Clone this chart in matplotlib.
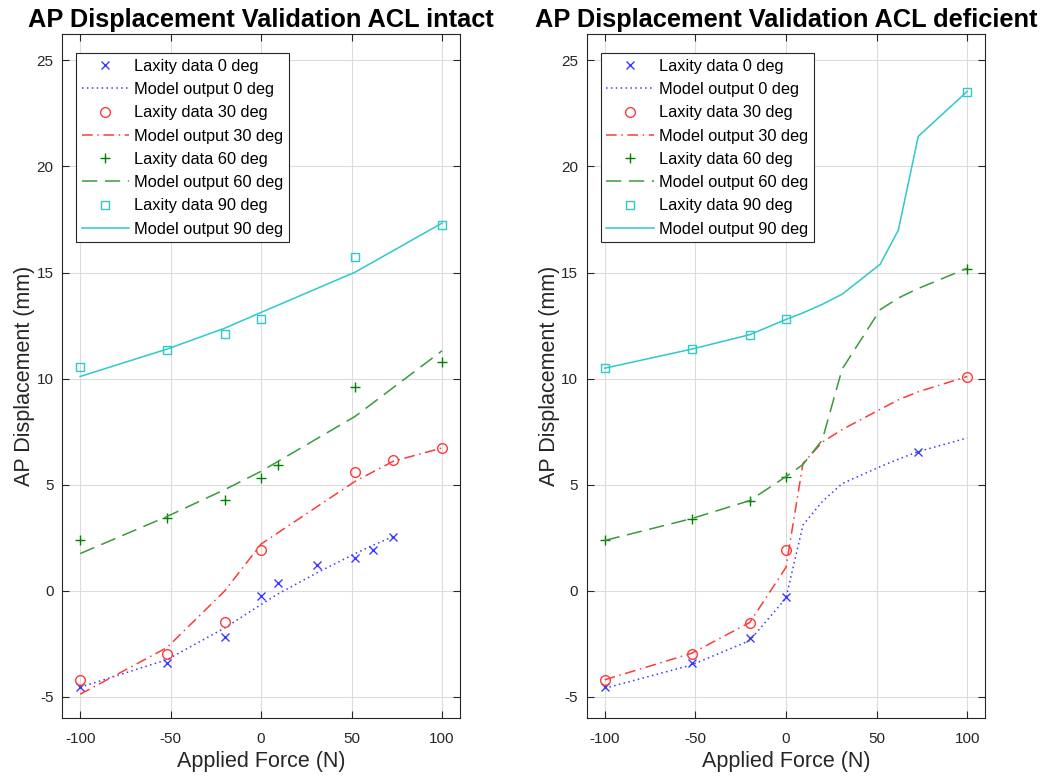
import matplotlib
matplotlib.use("Agg")
import matplotlib.pyplot as plt

plt.rcParams['font.family'] = ['Liberation Sans', 'DejaVu Sans']
plt.rcParams['axes.unicode_minus'] = False

# ---- ACL intact ----
f0_int = [-100, -52, -20, 0, 9.4, 31, 52, 62, 73]
lax0_int = [-4.54, -3.39, -2.17, -0.25, 0.36, 1.19, 1.54, 1.94, 2.54]
mod0_int = [-4.55, -3.25, -1.75, -0.65, -0.15, 0.85, 1.75, 2.15, 2.55]

f30_int = [-100, -52, -20, 0, 52, 73, 100]
lax30_int = [-4.22, -2.97, -1.48, 1.91, 5.62, 6.18, 6.72]
mod30_int = [-4.88, -2.68, 0.0, 2.2, 5.16, 6.1, 6.73]

f60_int = [-100, -52, -20, 0, 9.4, 52, 100]
lax60_int = [2.38, 3.43, 4.28, 5.32, 5.91, 9.6, 10.78]
fm60_int = [-100, -52, -20, 0, 52, 100]
mod60_int = [1.75, 3.5, 4.77, 5.63, 8.22, 11.31]

f90_int = [-100, -52, -20, 0, 52, 100]
lax90_int = [10.57, 11.35, 12.08, 12.8, 15.72, 17.25]
mod90_int = [10.1, 11.39, 12.38, 13.12, 15.02, 17.33]

# ---- ACL deficient ----
f0_def = [-100, -52, -20, 0, 73]
lax0_def = [-4.55, -3.41, -2.23, -0.31, 6.56]
f30_def = [-100, -52, -20, 0, 100]
lax30_def = [-4.19, -2.98, -1.52, 1.9, 10.09]
f60_def = [-100, -52, -20, 0, 100]
lax60_def = [2.37, 3.39, 4.25, 5.38, 15.17]
f90_def = [-100, -52, -20, 0, 100]
lax90_def = [10.49, 11.39, 12.07, 12.79, 23.51]

fm_def = [-100, -52, -20, 0, 9.4, 20, 31, 52, 62, 73, 100]
mod0_def = [-4.6, -3.5, -2.35, -0.35, 3.1, 4.2, 5.05, 5.85, 6.2, 6.56, 7.2]
mod30_def = [-4.2, -2.95, -1.5, 1.1, 6.0, 7.0, 7.6, 8.55, 9.0, 9.38, 10.1]
mod60_def = [2.37, 3.4, 4.25, 5.38, 5.95, 7.1, 10.45, 13.25, 13.8, 14.25, 15.2]
mod90_def = [10.49, 11.39, 12.07, 12.79, 13.1, 13.5, 13.98, 15.39, 17.0, 21.42, 23.54]

labels = ["Laxity data 0 deg", "Model output 0 deg",
          "Laxity data 30 deg", "Model output 30 deg",
          "Laxity data 60 deg", "Model output 60 deg",
          "Laxity data 90 deg", "Model output 90 deg"]

c_blue = '#3a3aff'
c_red = '#ff3a3a'
c_green = '#008000'
c_green_line = '#3a9a3a'
c_cyan = '#2ec9c9'
lw = 1.1
ms = 6


def draw_panel(ax, title, data, models):
    (fx0, y0), (fx30, y30), (fx60, y60), (fx90, y90) = data
    (fm0, m0), (fm30, m30), (fm60, m60), (fm90, m90) = models
    ax.plot(fx0, y0, 'x', color=c_blue, ms=ms, mew=1.0, label=labels[0])
    ax.plot(fm0, m0, color=c_blue, lw=lw, ls=(0, (1, 2.2)), label=labels[1])
    ax.plot(fx30, y30, 'o', color=c_red, mfc='none', ms=ms + 1, mew=1.0, label=labels[2])
    ax.plot(fm30, m30, color=c_red, lw=lw, ls=(0, (7, 3, 1, 3)), label=labels[3])
    ax.plot(fx60, y60, '+', color=c_green, ms=ms + 1, mew=1.0, label=labels[4])
    ax.plot(fm60, m60, color=c_green_line, lw=lw, ls=(0, (10, 5)), label=labels[5])
    ax.plot(fx90, y90, 's', color=c_cyan, mfc='none', ms=ms - 0.5, mew=1.0, label=labels[6])
    ax.plot(fm90, m90, color=c_cyan, lw=lw, ls='-', label=labels[7])

    ax.set_xlim(-110, 110)
    ax.set_ylim(-6, 26.25)
    ax.set_xticks([-100, -50, 0, 50, 100])
    ax.set_yticks([-5, 0, 5, 10, 15, 20, 25])
    ax.grid(True, color='#dcdcdc', lw=0.8)
    ax.set_axisbelow(True)
    ax.tick_params(direction='in', top=True, right=True, labelsize=11,
                   colors='#262626', length=5, width=0.8)
    ax.tick_params(axis='x', pad=10)
    ax.tick_params(axis='y', pad=6)
    for s in ax.spines.values():
        s.set_color('#262626')
        s.set_linewidth(0.8)
    ax.set_title(title, fontsize=18.3, fontweight='bold', pad=5)
    ax.set_xlabel("Applied Force (N)", fontsize=15.5, color='#262626', labelpad=4)
    ax.set_ylabel("AP Displacement (mm)", fontsize=15.5, color='#262626', labelpad=1)

    leg = ax.legend(loc='upper left', bbox_to_anchor=(0.035, 0.972), fontsize=11.8,
                    frameon=True, fancybox=False, framealpha=1, edgecolor='#262626',
                    handlelength=2.9, handletextpad=0.3, borderpad=0.35,
                    labelspacing=0.505, borderaxespad=0)
    leg.get_frame().set_linewidth(0.8)


fig = plt.figure(figsize=(10.48, 7.8), dpi=100)
ax1 = fig.add_axes([0.0592, 0.0795, 0.3798, 0.877])
ax2 = fig.add_axes([0.5597, 0.0795, 0.3805, 0.877])

draw_panel(ax1, "AP Displacement Validation ACL intact",
           [(f0_int, lax0_int), (f30_int, lax30_int), (f60_int, lax60_int), (f90_int, lax90_int)],
           [(f0_int, mod0_int), (f30_int, mod30_int), (fm60_int, mod60_int), (f90_int, mod90_int)])
draw_panel(ax2, "AP Displacement Validation ACL deficient",
           [(f0_def, lax0_def), (f30_def, lax30_def), (f60_def, lax60_def), (f90_def, lax90_def)],
           [(fm_def, mod0_def), (fm_def, mod30_def), (fm_def, mod60_def), (fm_def, mod90_def)])

fig.savefig("out.png", dpi=100)
